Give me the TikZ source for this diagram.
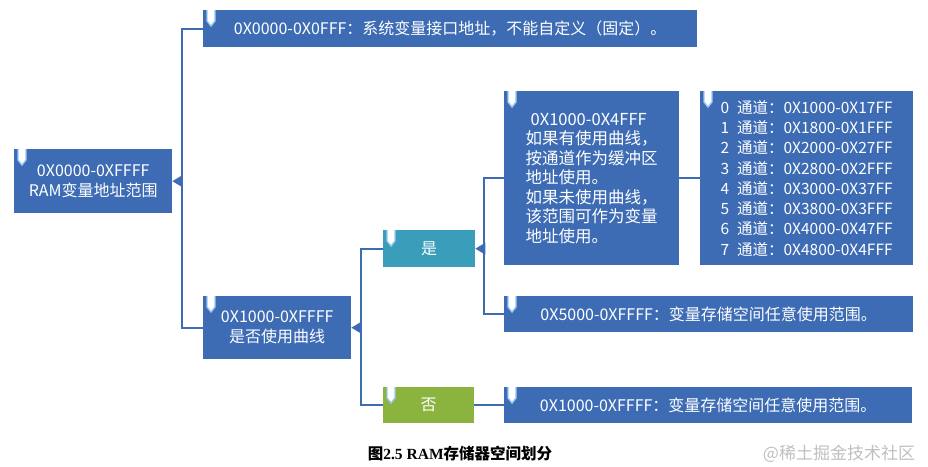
\documentclass[tikz,border=0pt]{standalone}
\usepackage{fontspec}
\setmainfont{Liberation Serif}
\newfontfamily\cjk{Noto Sans CJK SC}
\usetikzlibrary{positioning}

\definecolor{boxblue}{RGB}{61,108,181}
\definecolor{yesteal}{RGB}{58,157,186}
\definecolor{nogreen}{RGB}{139,180,62}
\definecolor{pinblue}{RGB}{150,200,240}

% little pen mark in the top left corner of a box
\newcommand{\boxpin}[1]{%
  \draw[pinmark] ([xshift=4]#1.north west) -- ++(0,11) -- ++(4,5) -- ++(4,-5) -- ++(0,-11);}
% small arrow head on the right side of a parent box
\newcommand{\notch}[1]{%
  \fill[boxblue] (#1.east) -- ++(10,-6) -- ++(0,12) -- cycle;}
% one line of the channel table
\newcommand{\chline}[2]{#1\hspace{0.5em}通道：#2}

\begin{document}
\begin{tikzpicture}
  [x=1pt,y=-1pt,
   every node/.style={rectangle,anchor=north west,fill=boxblue,text=white,inner sep=0pt,
     align=center,font=\cjk\fontsize{16}{20}\selectfont},
   line/.style={draw=boxblue,line width=2pt},
   pinmark/.style={draw=pinblue,fill=white,line width=1.4pt},
   size/.style 2 args={minimum width=#1,minimum height=#2}]
  \useasboundingbox (0,0) rectangle (928,466);

  \node[size={158}{64}] (root) at (14,149) {0X0000-0XFFFF\\RAM变量地址范围};
  \node[size={494}{37}] (top) at (203,10) {0X0000-0X0FFF：系统变量接口地址，不能自定义（固定）。};
  \node[size={148}{63}] (mid) at (203,296) {0X1000-0XFFFF\\是否使用曲线};
  \node[size={92}{37},fill=yesteal] (yes) at (383,230) {是};
  \node[size={91}{36},fill=nogreen] (no) at (383,387) {否};
  \node[size={175}{174},align=left,font=\cjk\fontsize{16.5}{19.5}\selectfont] (range) at (504,91)
    {\hspace{0.3em}0X1000-0X4FFF\\如果有使用曲线，\\按通道作为缓冲区\\地址使用。\\如果未使用曲线，\\该范围可作为变量\\地址使用。};
  \node[size={213}{174},align=left,font=\cjk\fontsize{15.5}{20.3}\selectfont] (chan) at (700,91)
    {\chline{0}{0X1000-0X17FF}\\\chline{1}{0X1800-0X1FFF}\\\chline{2}{0X2000-0X27FF}\\\chline{3}{0X2800-0X2FFF}\\
     \chline{4}{0X3000-0X37FF}\\\chline{5}{0X3800-0X3FFF}\\\chline{6}{0X4000-0X47FF}\\\chline{7}{0X4800-0X4FFF}};
  \node[size={409}{36}] (free) at (504,296) {0X5000-0XFFFF：变量存储空间任意使用范围。};
  \node[size={408}{36}] (rest) at (504,387) {0X1000-0XFFFF：变量存储空间任意使用范围。};

  % branch points
  \coordinate (j1) at ([xshift=10]root.east);
  \coordinate (j2) at ([xshift=10]mid.east);
  \coordinate (j3) at ([xshift=9]yes.east);

  \draw[line] (top.west) -| (j1) |- (mid.west);
  \draw[line] (yes.west) -| (j2) |- (no.west);
  \draw[line] (range.west) -| (j3) |- (free.west);
  \foreach \from/\to in {range/chan,no/rest}
    \draw[line] (\from) -- (\to);

  \foreach \n in {root,mid,yes}
    \notch{\n};
  \foreach \n in {root,top,mid,yes,no,range,chan,free,rest}
    \boxpin{\n};

  \node[fill=none,text=black,anchor=center,font=\bfseries\fontsize{15.5}{18}\selectfont] (cap) at (460,454)
    {{\cjk 图}2.5 RAM{\cjk 存储器空间划分}};
  \node[fill=none,text=black!25,anchor=center,font=\cjk\fontsize{17}{20}\selectfont] (mark) at (839,454)
    {@稀土掘金技术社区};
\end{tikzpicture}
\end{document}
